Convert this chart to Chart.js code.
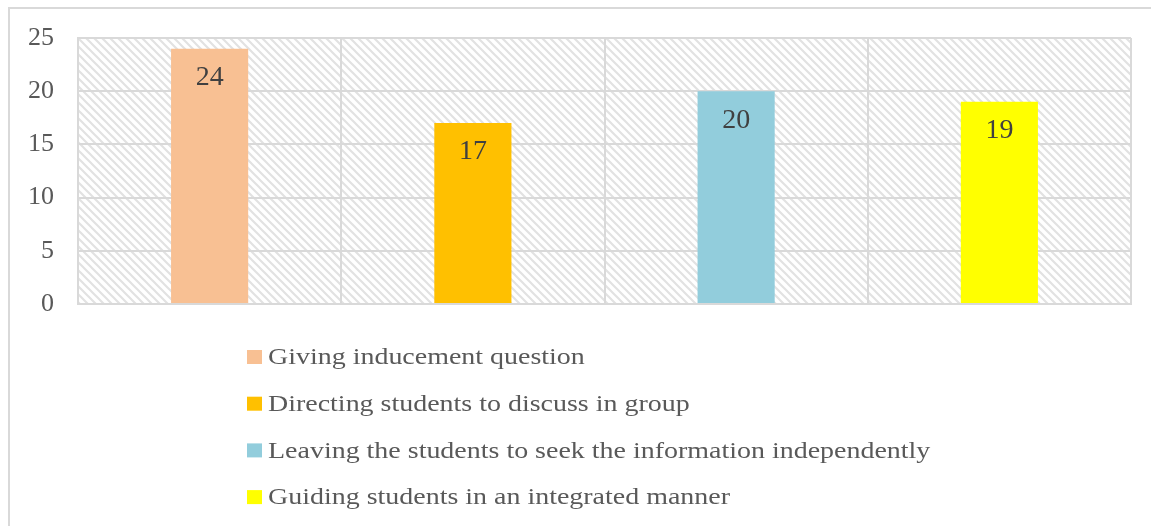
<!DOCTYPE html>
<html>
<head>
<meta charset="utf-8">
<script src="https://cdn.jsdelivr.net/npm/chart.js@4.4.1/dist/chart.umd.min.js"></script>
<style>
  html, body { margin: 0; padding: 0; background: #ffffff; overflow: hidden; }
  #wrap { position: relative; width: 1151px; height: 526px; }
  #frame { position: absolute; left: 8px; top: 7px; width: 1200px; height: 600px;
           border: 2px solid #d9d9d9; box-sizing: border-box; pointer-events: none; }
  canvas { position: absolute; left: 0; top: 0; }
</style>
</head>
<body>
<div id="wrap">
  <canvas id="c" width="1151" height="526"></canvas>
  <div id="frame"></div>
</div>
<script>
// ---- data ----
const categories = [
  'Giving inducement question',
  'Directing students to discuss in group',
  'Leaving the students to seek the information independently',
  'Guiding students in an integrated manner'
];
const values = [24, 17, 20, 19];
const barColors = ['#F8C093', '#FFC000', '#92CDDC', '#FFFF00'];
const yTicks = [0, 5, 10, 15, 20, 25];

const FONT = '"Liberation Serif", "Times New Roman", serif';

function makeHatch() {
  const s = 8;
  const c = document.createElement('canvas');
  c.width = s; c.height = s;
  const g = c.getContext('2d');
  g.fillStyle = '#ffffff';
  g.fillRect(0, 0, s, s);
  g.strokeStyle = '#e2e2e2';
  g.lineWidth = 2.2;
  g.beginPath();
  g.moveTo(-s, 0); g.lineTo(s, 2 * s);
  g.moveTo(0, 0); g.lineTo(s, s);
  g.moveTo(0, -s); g.lineTo(2 * s, s);
  g.stroke();
  return c;
}

const hatchPlugin = {
  id: 'hatch',
  beforeDraw(chart) {
    const { ctx, chartArea: a } = chart;
    ctx.save();
    ctx.fillStyle = ctx.createPattern(makeHatch(), 'repeat');
    ctx.fillRect(a.left, a.top, a.right - a.left, a.bottom - a.top);
    ctx.restore();
  }
};

const valueLabelPlugin = {
  id: 'valueLabels',
  afterDatasetsDraw(chart) {
    const { ctx } = chart;
    const meta = chart.getDatasetMeta(0);
    ctx.save();
    ctx.font = '28px ' + FONT;
    ctx.fillStyle = '#404040';
    ctx.textAlign = 'center';
    ctx.textBaseline = 'middle';
    meta.data.forEach((bar, i) => {
      ctx.fillText(String(values[i]), bar.x, bar.y + 29);
    });
    ctx.restore();
  }
};

const legendPlugin = {
  id: 'listLegend',
  afterDraw(chart) {
    const { ctx } = chart;
    ctx.save();
    ctx.font = '24px ' + FONT;
    ctx.textAlign = 'left';
    ctx.textBaseline = 'middle';
    categories.forEach((name, i) => {
      const cy = 357 + i * 46.7;
      ctx.fillStyle = barColors[i];
      ctx.fillRect(247, cy - 7, 15, 14);
      ctx.save();
      ctx.translate(268, cy + 1);
      ctx.scale(1.165, 1);
      ctx.fillStyle = '#595959';
      ctx.fillText(name, 0, 0);
      ctx.restore();
    });
    ctx.restore();
  }
};

new Chart(document.getElementById('c'), {
  type: 'bar',
  data: {
    labels: categories,
    datasets: [{
      label: 'Value',
      data: values,
      backgroundColor: barColors,
      borderWidth: 0,
      categoryPercentage: 1.0,
      barPercentage: 0.293
    }]
  },
  options: {
    responsive: false,
    animation: false,
    devicePixelRatio: 1,
    layout: { padding: { left: 0, right: 20, top: 30, bottom: 0 } },
    plugins: {
      legend: { display: false },
      tooltip: { enabled: false }
    },
    scales: {
      x: {
        grid: { display: true, offset: true, color: '#d9d9d9', lineWidth: 2, drawTicks: false },
        border: { display: true, color: '#d9d9d9', width: 2 },
        ticks: { display: false },
        afterFit(s) { s.height = 222; }
      },
      y: {
        min: 0,
        max: 25,
        afterBuildTicks(s) { s.ticks = yTicks.map(v => ({ value: v })); },
        grid: { color: '#d9d9d9', lineWidth: 2, drawTicks: false },
        border: { display: true, color: '#d9d9d9', width: 2 },
        ticks: {
          color: '#595959',
          font: { family: FONT, size: 26, lineHeight: 1.077 },
          padding: 24
        },
        afterFit(s) { s.width = 78; }
      }
    }
  },
  plugins: [hatchPlugin, valueLabelPlugin, legendPlugin]
});
</script>
</body>
</html>
